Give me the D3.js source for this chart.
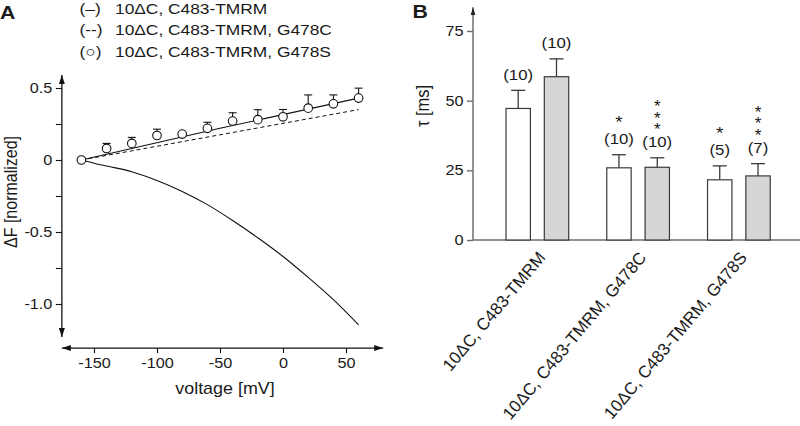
<!DOCTYPE html>
<html><head><meta charset="utf-8">
<script src="https://cdn.jsdelivr.net/npm/d3@7"></script>
<style>
body{margin:0;background:#fff}
svg{display:block}
text{font-family:"Liberation Sans",Arial,Helvetica,sans-serif;fill:#1a1a1a}
.vstars{writing-mode:vertical-rl;text-orientation:upright;letter-spacing:-7.7px}
</style></head><body>
<svg id="c" width="800" height="426"></svg>
<script>
// ---------- Panel A data ----------
const voltages   = [-160,-140,-120,-100,-80,-60,-40,-20,0,20,40,60];
const g478sMean  = [0,0.08,0.115,0.17,0.18,0.22,0.27,0.28,0.30,0.36,0.39,0.43];
const g478sErr   = [0,0.035,0.042,0.044,0.014,0.042,0.058,0.069,0.051,0.092,0.062,0.069];
const wtCurveV   = [-160,-150,-140,-120,-100,-80,-60,-40,-20,0,20,40,60];
const wtCurveF   = [0,-0.022,-0.042,-0.081,-0.142,-0.218,-0.31,-0.42,-0.54,-0.67,-0.815,-0.97,-1.145];
const g478cFitV  = [-160,60];
const g478cFitF  = [0,0.35];
const g478sFitV  = [-160,-50,60];
const g478sFitF  = [0,0.22,0.43];
const aXTicks    = [-150,-100,-50,0,50];
const aYTicks    = [-1,-0.5,0,0.5];
const aYTickLabels = ["-1.0","-0.5","0","0.5"];
const aYMinor    = [-0.75,-0.25,0.25];
const legendKeys   = ["(–)","(--)","(○)"];
const legendLabels = ["10ΔC, C483-TMRM","10ΔC, C483-TMRM, G478C","10ΔC, C483-TMRM, G478S"];

// ---------- Panel B data ----------
const groups    = ["10ΔC, C483-TMRM","10ΔC, C483-TMRM, G478C","10ΔC, C483-TMRM, G478S"];
const tauWhite  = [47.2,25.9,21.6];
const errWhite  = [6.5,4.7,5.0];
const tauGrey   = [58.6,26.1,23.0];
const errGrey   = [6.4,3.4,4.4];
const nWhite    = ["(10)","(10)","(5)"];
const nGrey     = ["(10)","(10)","(7)"];
const starsWhite= ["","*","*"];
const starsGrey = ["","***","***"];
const bYTicks   = [0,25,50,75];

const SX = 1.12; // horizontal glyph stretch of the reference
const svg = d3.select("#c");
const defs = svg.append("defs");
function marker(id, color, w, l){
  defs.append("marker").attr("id",id).attr("viewBox","0 0 10 10")
    .attr("refX",10).attr("refY",5).attr("markerUnits","userSpaceOnUse")
    .attr("markerWidth",l).attr("markerHeight",w).attr("preserveAspectRatio","none")
    .attr("orient","auto-start-reverse")
    .append("path").attr("d","M0,0L10,5L0,10Z").attr("fill",color);
}
marker("arrA","#111",6,9);
marker("arrB","#222",5,8);

function stext(g,x,y,str,size,opt={}){
  const t = g.append("text")
    .attr("transform",`translate(${x},${y}) scale(${SX},1)` + (opt.rot?` rotate(${opt.rot})`:""))
    .attr("font-size",size).text(str);
  if(opt.anchor) t.attr("text-anchor",opt.anchor);
  if(opt.weight) t.attr("font-weight",opt.weight);
  return t;
}

// ================= Panel A =================
const xA = d3.scaleLinear().domain([-150,50]).range([94,346]);
const yA = d3.scaleLinear().domain([-1,0.5]).range([304,88]);
const gA = svg.append("g");
const xLimA = [-175.5,79.5], yLimA=[-1.23,0.59], xAxisAtA = -1.306;

stext(gA,0,18.5,"A",19,{weight:"bold"});

legendKeys.forEach((k,i)=>{
  stext(gA,79.5,13.5+i*21.8,k,15.5);
  stext(gA,115,13.5+i*21.8,legendLabels[i],15.5);
});

const yAxA = d3.axisLeft(yA).tickValues(aYTicks.concat(aYMinor)).tickSize(6)
  .tickFormat(d=>{const i=aYTicks.indexOf(d);return i>=0?aYTickLabels[i]:"";});
const gyA = gA.append("g").attr("transform",`translate(${xA(xLimA[0])},0)`).call(yAxA);
gyA.select(".domain").remove();
gyA.selectAll(".tick line").attr("stroke","#111").attr("stroke-width",1.1);
gyA.selectAll(".tick text").each(function(){
  d3.select(this).attr("x",0).attr("transform",`translate(-9.5,0) scale(${SX},1)`);
}).attr("font-size",14.5).attr("font-family",null).attr("fill","#1a1a1a");
gA.append("line").attr("x1",xA(xLimA[0])).attr("x2",xA(xLimA[0]))
  .attr("y1",yA(yLimA[0])).attr("y2",yA(yLimA[1]))
  .attr("stroke","#111").attr("stroke-width",1.3)
  .attr("marker-start","url(#arrA)").attr("marker-end","url(#arrA)");

const xAxA = d3.axisBottom(xA).tickValues(aXTicks).tickSize(5).tickPadding(5).tickFormat(d3.format("d"));
const gxA = gA.append("g").attr("transform",`translate(0,${yA(xAxisAtA)})`).call(xAxA);
gxA.select(".domain").remove();
gxA.selectAll(".tick line").attr("stroke","#111").attr("stroke-width",1.1);
gxA.selectAll(".tick text").each(function(){
  const t=d3.select(this); const y=+t.attr("y");
  t.attr("y",0).attr("transform",`translate(0,${y}) scale(${SX},1)`);
}).attr("font-size",14.5).attr("font-family",null).attr("fill","#1a1a1a")
  .text(d=>String(d).replace("−","-"));
gA.append("line").attr("x1",xA(xLimA[0])).attr("x2",xA(xLimA[1]))
  .attr("y1",yA(xAxisAtA)).attr("y2",yA(xAxisAtA))
  .attr("stroke","#111").attr("stroke-width",1.3)
  .attr("marker-start","url(#arrA)").attr("marker-end","url(#arrA)");

stext(gA,225,393.5,"voltage [mV]",16,{anchor:"middle"});
stext(gA,17,192,"ΔF [normalized]",16,{anchor:"middle",rot:-90});

gA.append("path").datum(d3.zip(wtCurveV,wtCurveF))
  .attr("d",d3.line().x(d=>xA(d[0])).y(d=>yA(d[1])).curve(d3.curveMonotoneX))
  .attr("fill","none").attr("stroke","#111").attr("stroke-width",1.1);
gA.append("path").datum(d3.zip(g478cFitV,g478cFitF))
  .attr("d",d3.line().x(d=>xA(d[0])).y(d=>yA(d[1]))).attr("fill","none").attr("stroke","#111")
  .attr("stroke-width",1).attr("stroke-dasharray","4,3");
gA.append("path").datum(d3.zip(g478sFitV,g478sFitF))
  .attr("d",d3.line().x(d=>xA(d[0])).y(d=>yA(d[1])).curve(d3.curveMonotoneX))
  .attr("fill","none").attr("stroke","#111").attr("stroke-width",1.1);

const ptsA = voltages.map((v,i)=>({v,m:g478sMean[i],e:g478sErr[i]}));
const eb = gA.append("g").attr("stroke","#111").attr("stroke-width",1.1);
ptsA.filter(d=>d.e>0).forEach(d=>{
  eb.append("line").attr("x1",xA(d.v)).attr("x2",xA(d.v)).attr("y1",yA(d.m)).attr("y2",yA(d.m+d.e));
  eb.append("line").attr("x1",xA(d.v)-4).attr("x2",xA(d.v)+4).attr("y1",yA(d.m+d.e)).attr("y2",yA(d.m+d.e));
});
gA.selectAll("circle.pt").data(ptsA).join("circle").attr("class","pt")
  .attr("cx",d=>xA(d.v)).attr("cy",d=>yA(d.m)).attr("r",4.3)
  .attr("fill","#fff").attr("stroke","#111").attr("stroke-width",1.1);

// ================= Panel B =================
const gB = svg.append("g");
const yB = d3.scaleLinear().domain([0,75]).range([240,31]);
const xB0 = d3.scaleBand().domain(groups).range([487,789.3]);
const xB1 = d3.scaleBand().domain(["white","grey"]).range([19,81.7]).paddingInner(0.363);
const axisX = 473;

stext(gB,412.5,17.5,"B",19,{weight:"bold"});

const yAxB = d3.axisLeft(yB).tickValues(bYTicks).tickSize(6);
const gyB = gB.append("g").attr("transform",`translate(${axisX},0)`).call(yAxB);
gyB.select(".domain").remove();
gyB.selectAll(".tick line").attr("stroke","#6e6e6e").attr("stroke-width",1.4);
gyB.selectAll(".tick text").each(function(){
  d3.select(this).attr("x",0).attr("transform",`translate(-9.5,0) scale(${SX},1)`);
}).attr("font-size",14.5).attr("font-family",null).attr("fill","#1a1a1a");
gB.append("line").attr("x1",axisX).attr("x2",axisX).attr("y1",yB(0)).attr("y2",yB(83.5))
  .attr("stroke","#6e6e6e").attr("stroke-width",1.5).attr("marker-end","url(#arrB)");
gB.append("line").attr("x1",axisX).attr("x2",800).attr("y1",yB(0)).attr("y2",yB(0))
  .attr("stroke","#6e6e6e").attr("stroke-width",1.5);

stext(gB,429,106,"τ [ms]",16.5,{anchor:"middle",rot:-90});

const barsB = [];
groups.forEach((g,i)=>{
  barsB.push({g,k:"white",v:tauWhite[i],e:errWhite[i],n:nWhite[i],s:starsWhite[i]});
  barsB.push({g,k:"grey",v:tauGrey[i],e:errGrey[i],n:nGrey[i],s:starsGrey[i]});
});
barsB.forEach(d=>{
  const x0 = xB0(d.g)+xB1(d.k), w = xB1.bandwidth(), cx = x0+w/2;
  const top = yB(d.v+d.e);
  gB.append("line").attr("x1",cx).attr("x2",cx).attr("y1",yB(d.v)).attr("y2",top)
    .attr("stroke","#3a3a3a").attr("stroke-width",1.3);
  gB.append("line").attr("x1",cx-7).attr("x2",cx+7).attr("y1",top).attr("y2",top)
    .attr("stroke","#3a3a3a").attr("stroke-width",1.3);
  gB.append("rect").attr("x",x0).attr("y",yB(d.v)).attr("width",w).attr("height",yB(0)-yB(d.v))
    .attr("fill",d.k==="white"?"#fff":"#d6d6d6").attr("stroke","#3a3a3a").attr("stroke-width",1.2);
  const nb = top-10.5;
  stext(gB,cx,nb,d.n,15,{anchor:"middle"});
  if(d.s.length===1){
    stext(gB,cx,nb-16.5,d.s,17,{anchor:"middle"});
  } else if(d.s.length>1){
    gB.append("text").attr("class","vstars").attr("font-size",17)
      .attr("x",cx).attr("y",nb-50).text(d.s);
  }
});

groups.forEach(g=>{
  gB.append("text").attr("text-anchor","end").attr("font-size",17)
    .attr("transform",`translate(${xB0(g)+xB0.bandwidth()/2+9},258) rotate(-50)`).text(g);
});
</script>
</body></html>
